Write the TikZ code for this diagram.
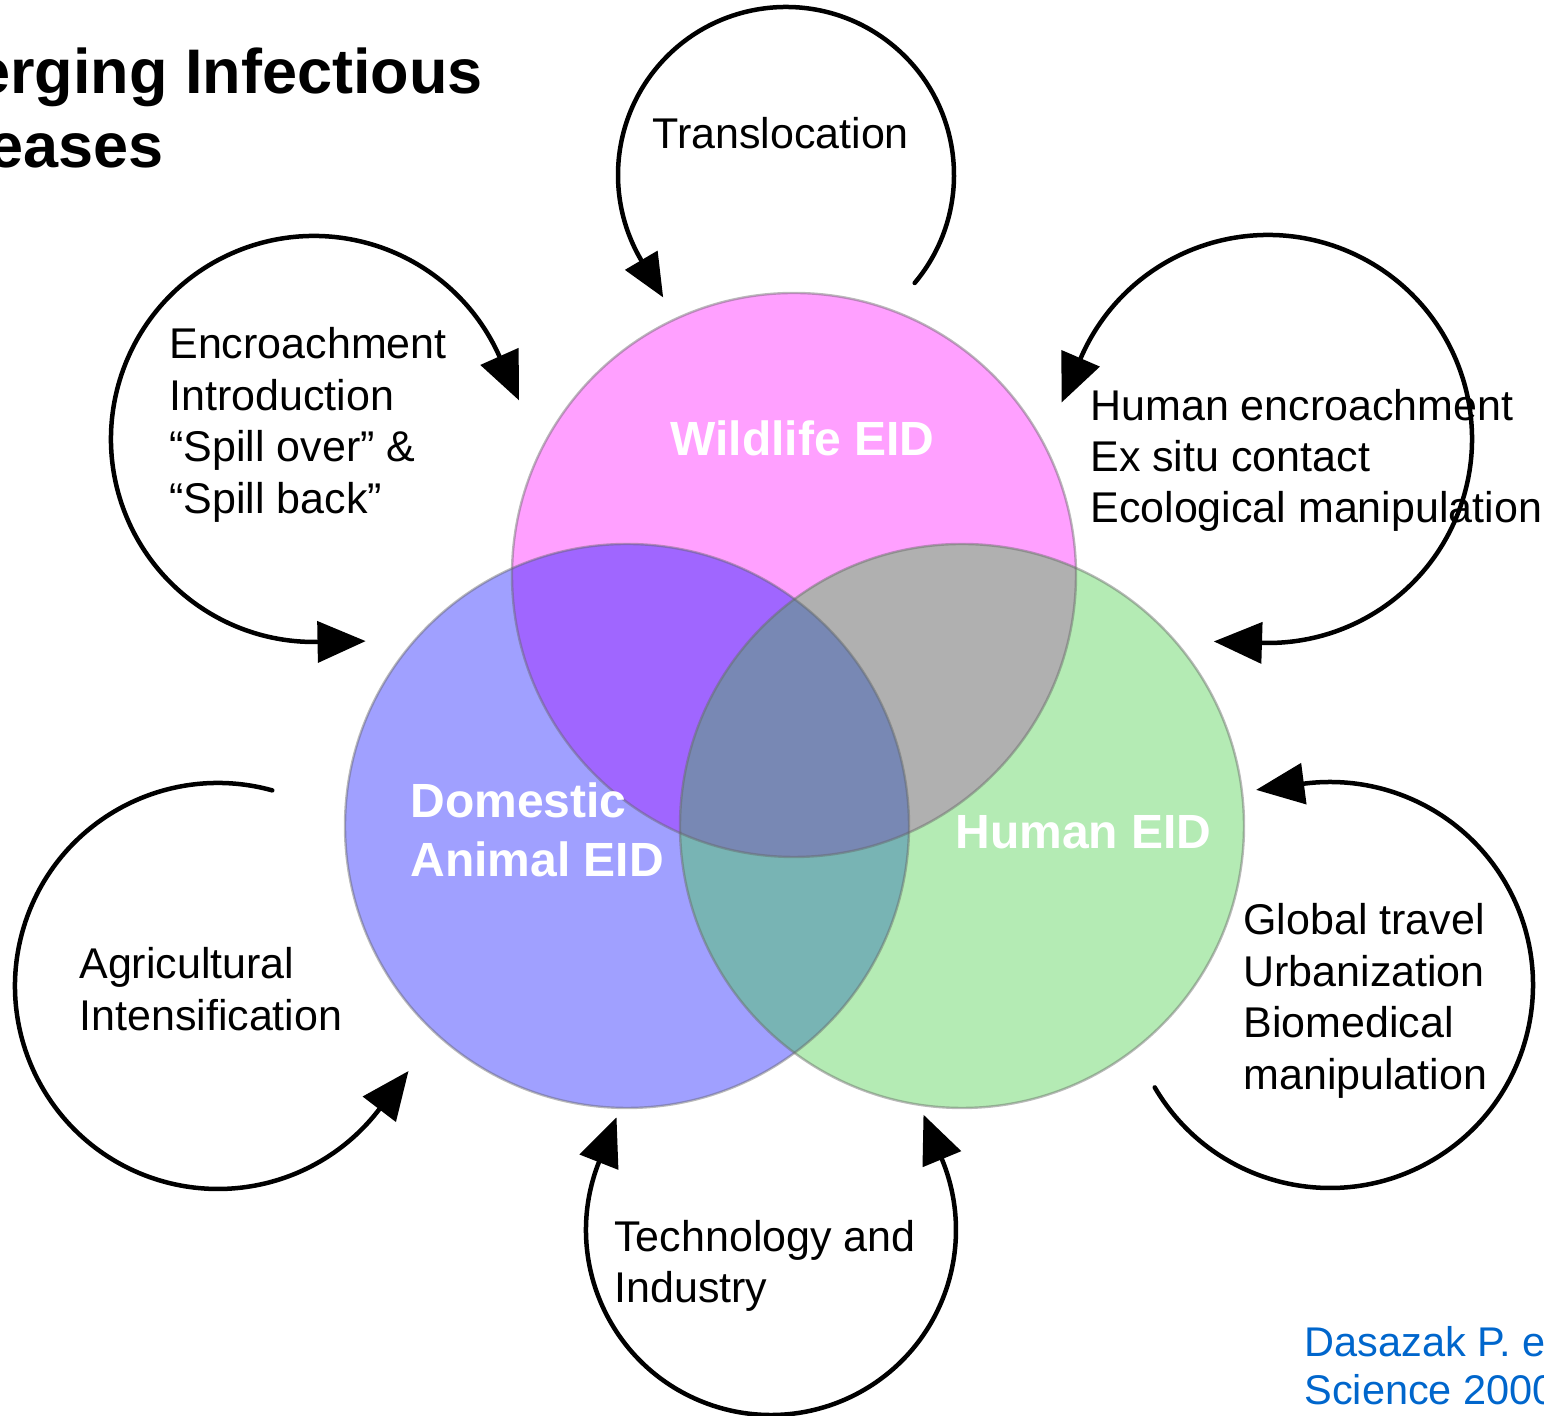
\documentclass[tikz,border=0pt]{standalone}
\usepackage{fontspec}
\setmainfont{Liberation Sans}
\definecolor{cW}{HTML}{FFA0FF}
\definecolor{cD}{HTML}{A0A0FF}
\definecolor{cH}{HTML}{B4EBB4}
\definecolor{cWD}{HTML}{A066FF}
\definecolor{cWH}{HTML}{B0B0B0}
\definecolor{cDH}{HTML}{78B4B4}
\definecolor{cWDH}{HTML}{7888B4}
\definecolor{cite}{HTML}{0066CC}
\newcommand\cycarc[5]{\draw[cyc] (#1,#2) ++(#4:#3) arc[start angle=#4, end angle=#5, radius=#3];}
\newcommand\ahead[7]{%
  \begin{scope}[shift={(#1,#2)}, rotate=#4]
    \fill ({#3-#7/2},0) -- ({#3+#7/2},0) -- (#3,{#5*#6}) -- cycle;
  \end{scope}}
\begin{document}
\begin{tikzpicture}[x=0.5pt,y=0.5pt,
  cyc/.style={line width=2.25pt, black, line cap=round},
  lbl/.style={inner sep=0pt, anchor=base west, font=\fontsize{21.5}{25.8}\selectfont},
  eid/.style={inner sep=0pt, anchor=base west, text=white, font=\bfseries\fontsize{24}{28.8}\selectfont},
  ttl/.style={inner sep=0pt, anchor=base east, font=\bfseries\fontsize{31.5}{37}\selectfont},
  cit/.style={inner sep=0pt, anchor=base west, text=cite, font=\fontsize{20.75}{24.9}\selectfont},
  rim/.style={draw=black!60, opacity=0.45, line width=1.2pt}]
\useasboundingbox (0,0) rectangle (1544,1416);
\clip (0,0) rectangle (1544,1416);
% circle centres
\coordinate (W) at (794,841);
\coordinate (D) at (627,590);
\coordinate (H) at (962,590);
% base fills
\fill[cW] (W) circle[radius=282];
\fill[cD] (D) circle[radius=282];
\fill[cH] (H) circle[radius=282];
% overlaps
\begin{scope}\clip (W) circle[radius=282]; \fill[cWD] (D) circle[radius=282]; \fill[cWH] (H) circle[radius=282];\end{scope}
\begin{scope}\clip (D) circle[radius=282]; \fill[cDH] (H) circle[radius=282];\end{scope}
\begin{scope}\clip (W) circle[radius=282]; \clip (D) circle[radius=282]; \fill[cWDH] (H) circle[radius=282];\end{scope}
% outlines
\draw[rim] (W) circle[radius=282];
\draw[rim] (D) circle[radius=282];
\draw[rim] (H) circle[radius=282];
% circle labels
\node[eid] (lW) at (670,960) {Wildlife EID};
\node[eid] (lD1) at (410,598) {Domestic};
\node[eid] (lD2) at (410,539) {Animal EID};
\node[eid] (lH) at (955,567) {Human EID};
% cycle arrows
\cycarc{786}{1241}{168}{-40}{210.5}
\ahead{786}{1241}{168}{210.5}{1}{43}{38}
\cycarc{314}{977}{203}{24}{271}
\ahead{314}{977}{203}{24}{-1}{48}{42}
\ahead{314}{977}{203}{271}{1}{48}{42}
\cycarc{1268}{977}{204}{156.7}{-91.7}
\ahead{1268}{977}{204}{156.7}{1}{48}{42}
\ahead{1268}{977}{204}{-91.7}{-1}{48}{42}
\cycarc{218}{430}{203}{74.5}{322.6}
\ahead{218}{430}{203}{322.6}{1}{48}{42}
\cycarc{1330}{431}{203}{210.3}{457.4}
\ahead{1330}{431}{203}{97.4}{1}{48}{42}
\cycarc{771}{186}{185}{158.5}{382.5}
\ahead{771}{186}{185}{158.5}{-1}{48}{42}
\ahead{771}{186}{185}{22.5}{1}{48}{42}
% cycle labels
\node[lbl] (tTr) at (652,1267) {Translocation};
\node[lbl] (tEn1) at (169,1057) {Encroachment};
\node[lbl] (tEn2) at (169,1005) {Introduction};
\node[lbl] (tEn3) at (169,954) {“Spill over” \&};
\node[lbl] (tEn4) at (169,902) {“Spill back”};
\node[lbl] (tHu1) at (1090,995) {Human encroachment};
\node[lbl] (tHu2) at (1090,944) {Ex situ contact};
\node[lbl] (tHu3) at (1090,893) {Ecological manipulation};
\node[lbl] (tAg1) at (79,437) {Agricultural};
\node[lbl] (tAg2) at (79,385) {Intensification};
\node[lbl] (tGl1) at (1243,481) {Global travel};
\node[lbl] (tGl2) at (1243,429.5) {Urbanization};
\node[lbl] (tGl3) at (1243,378) {Biomedical};
\node[lbl] (tGl4) at (1243,326.5) {manipulation};
\node[lbl] (tTe1) at (614,164) {Technology and};
\node[lbl] (tTe2) at (614,113) {Industry};
% title (cropped at the left edge, as in the reference)
\node[ttl] (ti1) at (483,1322) {erging Infectious};
\node[ttl] (ti2) at (164,1248) {eases};
% citation (cropped at the right edge, as in the reference)
\node[cit] (c1) at (1304,59) {Dasazak P. e};
\node[cit] (c2) at (1304,11) {Science 2000};
\end{tikzpicture}
\end{document}
